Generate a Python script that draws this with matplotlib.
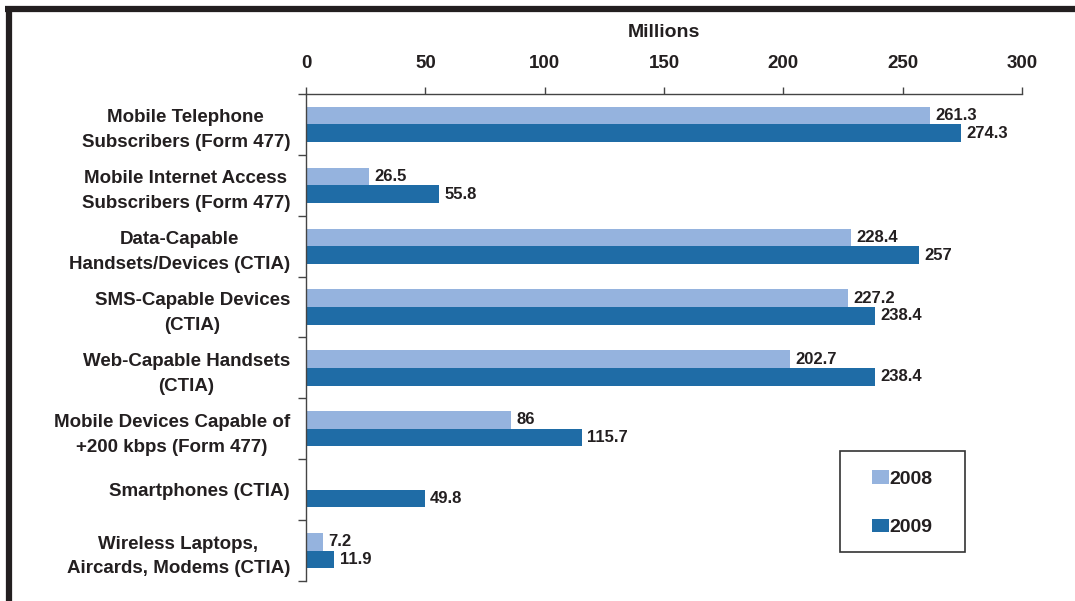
import numpy as np
import matplotlib.pyplot as plt
from matplotlib.lines import Line2D
from matplotlib.patches import Patch, Rectangle

categories = [
    "Mobile Telephone\nSubscribers (Form 477)",
    "Mobile Internet Access\nSubscribers (Form 477)",
    "Data-Capable\nHandsets/Devices (CTIA)",
    "SMS-Capable Devices\n(CTIA)",
    "Web-Capable Handsets\n(CTIA)",
    "Mobile Devices Capable of\n+200 kbps (Form 477)",
    "Smartphones (CTIA)",
    "Wireless Laptops,\nAircards, Modems (CTIA)",
]
values_2008 = [261.3, 26.5, 228.4, 227.2, 202.7, 86, np.nan, 7.2]
values_2009 = [274.3, 55.8, 257, 238.4, 238.4, 115.7, 49.8, 11.9]
labels_2008 = ["261.3", "26.5", "228.4", "227.2", "202.7", "86", "", "7.2"]
labels_2009 = ["274.3", "55.8", "257", "238.4", "238.4", "115.7", "49.8", "11.9"]
x_ticks = [0, 50, 100, 150, 200, 250, 300]

c2008 = "#95B3DE"
c2009 = "#1F6CA6"
dark = "#231F20"

plt.rcParams["font.family"] = ["Liberation Sans", "DejaVu Sans"]
plt.rcParams["font.weight"] = "bold"

fig = plt.figure(figsize=(10.75, 6.01), dpi=100)
ax = fig.add_axes([0.2847, 0.0333, 0.9507 - 0.2847, 0.8436 - 0.0333])

y = np.arange(len(categories))
h = 0.29
ax.barh(y - h / 2, values_2008, height=h, color=c2008, label="2008")
ax.barh(y + h / 2, values_2009, height=h, color=c2009, label="2009")

for yi, v, t in zip(y, values_2008, labels_2008):
    if t:
        ax.text(v + 2.2, yi - h / 2, t, va="center", ha="left",
                fontsize=12, fontweight="bold", color=dark)
for yi, v, t in zip(y, values_2009, labels_2009):
    ax.text(v + 2.2, yi + h / 2, t, va="center", ha="left",
            fontsize=12, fontweight="bold", color=dark)

ax.set_xlim(0, 300)
ax.set_ylim(len(categories) - 0.5, -0.5)
ax.xaxis.tick_top()
ax.xaxis.set_label_position("top")
ax.set_xticks(x_ticks)
ax.set_xticklabels([str(v) for v in x_ticks], fontsize=13.5, fontweight="bold", color=dark)
ax.tick_params(axis="x", direction="out", length=5, width=1, color="#444444", pad=11)
ax.set_xlabel("Millions", fontsize=14, fontweight="bold", color=dark, labelpad=13)

ax.set_yticks(y)
ax.set_yticklabels(categories, fontsize=13.5, fontweight="bold", color=dark,
                   ha="right", multialignment="center", linespacing=1.6)
ax.tick_params(axis="y", which="major", length=0, pad=11.5)
ax.set_yticks(np.arange(-0.5, len(categories), 1), minor=True)
ax.tick_params(axis="y", which="minor", direction="out", length=6, width=1, color="#444444")

for s in ["right", "bottom"]:
    ax.spines[s].set_visible(False)
for s in ["left", "top"]:
    ax.spines[s].set_color("#444444")
    ax.spines[s].set_linewidth(1)

# legend: framed box with the two year entries centred inside
ax.add_patch(Rectangle((0.7458, 0.0595), 0.9204 - 0.7458, 0.267 - 0.0595,
                       transform=ax.transAxes, facecolor="white",
                       edgecolor="#333333", linewidth=1.2, zorder=4,
                       clip_on=False))
handles = [Patch(facecolor=c2008, label="2008"), Patch(facecolor=c2009, label="2009")]
leg = ax.legend(handles=handles, loc="center", bbox_to_anchor=(0.833, 0.160),
                frameon=False, fontsize=14, handlelength=0.85,
                handleheight=0.72, handletextpad=0.05, labelspacing=1.6,
                borderpad=0, borderaxespad=0)
leg.set_zorder(5)
for t in leg.get_texts():
    t.set_fontweight("bold")
    t.set_color(dark)

# heavy frame along the top and left edges of the figure
fig.add_artist(Line2D([5 / 1075, 1.0], [1 - 9 / 601, 1 - 9 / 601],
                      transform=fig.transFigure, color=dark, linewidth=4.5,
                      solid_capstyle="butt"))
fig.add_artist(Line2D([9 / 1075, 9 / 1075], [0.0, 1 - 6 / 601],
                      transform=fig.transFigure, color=dark, linewidth=4.5,
                      solid_capstyle="butt"))

fig.savefig("out.png", dpi=100)
